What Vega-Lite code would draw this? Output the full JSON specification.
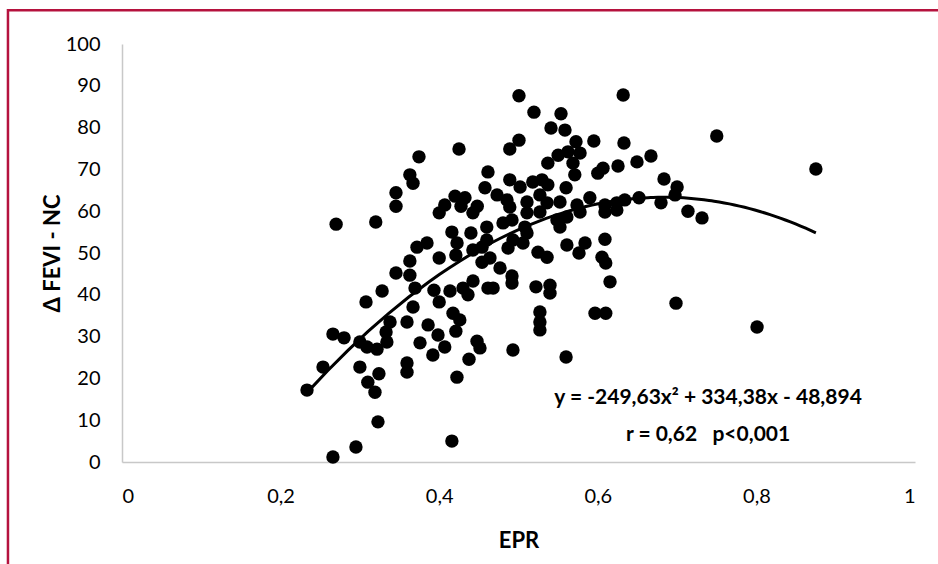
{
  "$schema": "https://vega.github.io/schema/vega-lite/v6.json",
  "autosize": "none",
  "width": 793,
  "height": 418,
  "padding": {"left": 122, "top": 44, "right": 23, "bottom": 102},
  "background": "white",
  "config": {"view": {"stroke": null}, "font": "Lato"},
  "layer": [
    {
      "data": {"values": [{}]},
      "mark": {"type": "rect", "fill": null, "stroke": "#B5123E", "strokeWidth": 2.5},
      "encoding": {
        "x": {"datum": -0.1438, "type": "quantitative", "scale": {"domain": [0, 1], "nice": false}},
        "x2": {"datum": 1.1},
        "y": {"datum": 108.1, "type": "quantitative", "scale": {"domain": [0, 100], "nice": false}},
        "y2": {"datum": -40}
      }
    },
    {
      "data": {"name": "pts"},
      "mark": {"type": "circle", "size": 180, "color": "#000000", "opacity": 1},
      "encoding": {
        "x": {
          "field": "EPR", "type": "quantitative",
          "scale": {"domain": [0, 1], "nice": false, "zero": false},
          "axis": {
            "values": [0, 0.2, 0.4, 0.6, 0.8, 1],
            "labelExpr": "datum.value == 0 ? '0' : datum.value == 1 ? '1' : replace(format(datum.value, '.1f'), '.', ',')",
            "grid": false, "ticks": false,
            "domainColor": "#C8C8C8", "domainWidth": 1.5,
            "labelFontSize": 20, "labelColor": "#000000", "labelPadding": 24, "labelFont": "Lato",
            "title": "EPR", "titleFontSize": 22, "titleFontWeight": "bold", "titleColor": "#000000", "titleFont": "Lato",
            "titleY": 78, "titleBaseline": "middle"
          }
        },
        "y": {
          "field": "dFEVI", "type": "quantitative",
          "scale": {"domain": [0, 100], "nice": false},
          "axis": {
            "values": [0, 10, 20, 30, 40, 50, 60, 70, 80, 90, 100],
            "grid": false, "ticks": false,
            "domainColor": "#C8C8C8", "domainWidth": 1.5,
            "labelFontSize": 20, "labelColor": "#000000", "labelPadding": 22, "labelFont": "Lato",
            "title": "Δ FEVI - NC", "titleFontSize": 22, "titleFontWeight": "bold", "titleColor": "#000000", "titleFont": "Lato",
            "titleX": -70, "titleY": 209, "titleAngle": -90, "titleAlign": "center", "titleBaseline": "middle"
          }
        }
      }
    },
    {
      "data": {"name": "pts"},
      "transform": [{"regression": "dFEVI", "on": "EPR", "method": "poly", "order": 2}],
      "mark": {"type": "line", "color": "#000000", "strokeWidth": 3},
      "encoding": {
        "x": {"field": "EPR", "type": "quantitative"},
        "y": {"field": "dFEVI", "type": "quantitative"}
      }
    },
    {
      "data": {"values": [{}]},
      "mark": {"type": "text", "text": "y = -249,63x² + 334,38x - 48,894", "font": "Lato", "fontSize": 21, "fontWeight": "bold", "color": "#000000", "align": "center", "baseline": "middle"},
      "encoding": {
        "x": {"datum": 0.739, "type": "quantitative"},
        "y": {"datum": 15.3, "type": "quantitative"}
      }
    },
    {
      "data": {"values": [{}]},
      "mark": {"type": "text", "text": "r = 0,62\u00a0\u00a0\u00a0p<0,001", "font": "Lato", "fontSize": 21, "fontWeight": "bold", "color": "#000000", "align": "center", "baseline": "middle"},
      "encoding": {
        "x": {"datum": 0.739, "type": "quantitative"},
        "y": {"datum": 6.5, "type": "quantitative"}
      }
    }
  ],
  "datasets": {
    "pts": [
      {"EPR": 0.425, "dFEVI": 74.9}, {"EPR": 0.3745, "dFEVI": 73.0}, {"EPR": 0.363, "dFEVI": 68.7}, {"EPR": 0.367, "dFEVI": 66.7},
      {"EPR": 0.3455, "dFEVI": 64.4}, {"EPR": 0.3455, "dFEVI": 61.2}, {"EPR": 0.270, "dFEVI": 56.9}, {"EPR": 0.320, "dFEVI": 57.4},
      {"EPR": 0.400, "dFEVI": 59.6}, {"EPR": 0.407, "dFEVI": 61.5}, {"EPR": 0.420, "dFEVI": 63.6}, {"EPR": 0.4325, "dFEVI": 63.2},
      {"EPR": 0.4275, "dFEVI": 61.2}, {"EPR": 0.448, "dFEVI": 61.2}, {"EPR": 0.4425, "dFEVI": 59.6}, {"EPR": 0.416, "dFEVI": 55.0},
      {"EPR": 0.440, "dFEVI": 54.8}, {"EPR": 0.4225, "dFEVI": 52.4}, {"EPR": 0.3846, "dFEVI": 52.4}, {"EPR": 0.372, "dFEVI": 51.4},
      {"EPR": 0.363, "dFEVI": 48.1}, {"EPR": 0.400, "dFEVI": 48.8}, {"EPR": 0.421, "dFEVI": 49.5}, {"EPR": 0.4425, "dFEVI": 50.7},
      {"EPR": 0.5006, "dFEVI": 87.6}, {"EPR": 0.632, "dFEVI": 87.8}, {"EPR": 0.5195, "dFEVI": 83.7}, {"EPR": 0.5536, "dFEVI": 83.3},
      {"EPR": 0.541, "dFEVI": 79.9}, {"EPR": 0.5586, "dFEVI": 79.4}, {"EPR": 0.5006, "dFEVI": 77.0}, {"EPR": 0.489, "dFEVI": 74.9},
      {"EPR": 0.5725, "dFEVI": 76.6}, {"EPR": 0.595, "dFEVI": 76.8}, {"EPR": 0.633, "dFEVI": 76.3}, {"EPR": 0.550, "dFEVI": 73.4},
      {"EPR": 0.5624, "dFEVI": 74.2}, {"EPR": 0.5776, "dFEVI": 73.9}, {"EPR": 0.537, "dFEVI": 71.5}, {"EPR": 0.5687, "dFEVI": 71.5},
      {"EPR": 0.571, "dFEVI": 68.7}, {"EPR": 0.600, "dFEVI": 69.1}, {"EPR": 0.6066, "dFEVI": 70.3}, {"EPR": 0.6255, "dFEVI": 70.8},
      {"EPR": 0.6494, "dFEVI": 71.8}, {"EPR": 0.667, "dFEVI": 73.2}, {"EPR": 0.6835, "dFEVI": 67.7}, {"EPR": 0.700, "dFEVI": 65.8},
      {"EPR": 0.6974, "dFEVI": 63.9}, {"EPR": 0.7137, "dFEVI": 60.0}, {"EPR": 0.7314, "dFEVI": 58.4}, {"EPR": 0.652, "dFEVI": 63.2},
      {"EPR": 0.6797, "dFEVI": 62.0}, {"EPR": 0.4615, "dFEVI": 69.4}, {"EPR": 0.489, "dFEVI": 67.5}, {"EPR": 0.4577, "dFEVI": 65.6},
      {"EPR": 0.502, "dFEVI": 65.8}, {"EPR": 0.518, "dFEVI": 67.0}, {"EPR": 0.5296, "dFEVI": 67.5}, {"EPR": 0.537, "dFEVI": 66.3},
      {"EPR": 0.560, "dFEVI": 65.6}, {"EPR": 0.473, "dFEVI": 63.9}, {"EPR": 0.4855, "dFEVI": 62.7}, {"EPR": 0.489, "dFEVI": 61.0},
      {"EPR": 0.5107, "dFEVI": 62.2}, {"EPR": 0.527, "dFEVI": 63.9}, {"EPR": 0.536, "dFEVI": 62.0}, {"EPR": 0.5523, "dFEVI": 62.2},
      {"EPR": 0.5738, "dFEVI": 61.5}, {"EPR": 0.590, "dFEVI": 63.2}, {"EPR": 0.609, "dFEVI": 61.5}, {"EPR": 0.624, "dFEVI": 62.0},
      {"EPR": 0.634, "dFEVI": 62.7}, {"EPR": 0.5776, "dFEVI": 59.8}, {"EPR": 0.609, "dFEVI": 59.8}, {"EPR": 0.624, "dFEVI": 60.3},
      {"EPR": 0.527, "dFEVI": 59.8}, {"EPR": 0.5107, "dFEVI": 59.6}, {"EPR": 0.4918, "dFEVI": 57.9}, {"EPR": 0.4805, "dFEVI": 57.2},
      {"EPR": 0.460, "dFEVI": 56.2}, {"EPR": 0.508, "dFEVI": 56.2}, {"EPR": 0.5485, "dFEVI": 57.9}, {"EPR": 0.561, "dFEVI": 58.6},
      {"EPR": 0.5523, "dFEVI": 56.2}, {"EPR": 0.5107, "dFEVI": 54.8}, {"EPR": 0.493, "dFEVI": 53.1}, {"EPR": 0.460, "dFEVI": 53.1},
      {"EPR": 0.454, "dFEVI": 51.4}, {"EPR": 0.4868, "dFEVI": 51.2}, {"EPR": 0.5057, "dFEVI": 52.4}, {"EPR": 0.561, "dFEVI": 51.9},
      {"EPR": 0.5839, "dFEVI": 52.4}, {"EPR": 0.5763, "dFEVI": 50.0}, {"EPR": 0.609, "dFEVI": 53.3}, {"EPR": 0.6053, "dFEVI": 49.0},
      {"EPR": 0.5246, "dFEVI": 50.2}, {"EPR": 0.536, "dFEVI": 49.0}, {"EPR": 0.464, "dFEVI": 48.8}, {"EPR": 0.454, "dFEVI": 47.8},
      {"EPR": 0.610, "dFEVI": 47.6},
      {"EPR": 0.2333, "dFEVI": 17.2}, {"EPR": 0.2535, "dFEVI": 22.7}, {"EPR": 0.266, "dFEVI": 30.6}, {"EPR": 0.280, "dFEVI": 29.7},
      {"EPR": 0.300, "dFEVI": 28.7}, {"EPR": 0.309, "dFEVI": 27.5}, {"EPR": 0.3216, "dFEVI": 27.0}, {"EPR": 0.300, "dFEVI": 22.7},
      {"EPR": 0.310, "dFEVI": 19.1}, {"EPR": 0.324, "dFEVI": 21.1}, {"EPR": 0.319, "dFEVI": 16.7}, {"EPR": 0.3228, "dFEVI": 9.6},
      {"EPR": 0.295, "dFEVI": 3.6}, {"EPR": 0.266, "dFEVI": 1.2}, {"EPR": 0.3077, "dFEVI": 38.3}, {"EPR": 0.328, "dFEVI": 40.9},
      {"EPR": 0.3455, "dFEVI": 45.2}, {"EPR": 0.363, "dFEVI": 44.7}, {"EPR": 0.3695, "dFEVI": 41.6}, {"EPR": 0.367, "dFEVI": 37.1},
      {"EPR": 0.3594, "dFEVI": 33.5}, {"EPR": 0.338, "dFEVI": 33.5}, {"EPR": 0.333, "dFEVI": 31.1}, {"EPR": 0.334, "dFEVI": 28.7},
      {"EPR": 0.3594, "dFEVI": 23.7}, {"EPR": 0.3594, "dFEVI": 21.5}, {"EPR": 0.3758, "dFEVI": 28.5}, {"EPR": 0.386, "dFEVI": 32.8},
      {"EPR": 0.3985, "dFEVI": 30.4}, {"EPR": 0.407, "dFEVI": 27.5}, {"EPR": 0.392, "dFEVI": 25.6}, {"EPR": 0.3934, "dFEVI": 41.1},
      {"EPR": 0.400, "dFEVI": 38.3}, {"EPR": 0.4136, "dFEVI": 40.9}, {"EPR": 0.430, "dFEVI": 41.6}, {"EPR": 0.4363, "dFEVI": 40.0},
      {"EPR": 0.4426, "dFEVI": 43.3}, {"EPR": 0.4615, "dFEVI": 41.6}, {"EPR": 0.4174, "dFEVI": 35.6}, {"EPR": 0.426, "dFEVI": 34.0},
      {"EPR": 0.421, "dFEVI": 31.3}, {"EPR": 0.4477, "dFEVI": 28.9}, {"EPR": 0.4514, "dFEVI": 27.3}, {"EPR": 0.4376, "dFEVI": 24.6},
      {"EPR": 0.4224, "dFEVI": 20.3}, {"EPR": 0.416, "dFEVI": 5.0},
      {"EPR": 0.468, "dFEVI": 41.6}, {"EPR": 0.4918, "dFEVI": 42.8}, {"EPR": 0.522, "dFEVI": 41.9}, {"EPR": 0.5397, "dFEVI": 42.3},
      {"EPR": 0.5397, "dFEVI": 40.4}, {"EPR": 0.6154, "dFEVI": 43.1}, {"EPR": 0.527, "dFEVI": 35.9}, {"EPR": 0.527, "dFEVI": 33.5},
      {"EPR": 0.527, "dFEVI": 31.6}, {"EPR": 0.5965, "dFEVI": 35.6}, {"EPR": 0.610, "dFEVI": 35.6}, {"EPR": 0.6986, "dFEVI": 38.0},
      {"EPR": 0.493, "dFEVI": 26.8}, {"EPR": 0.560, "dFEVI": 25.1}, {"EPR": 0.4767, "dFEVI": 46.4}, {"EPR": 0.4918, "dFEVI": 44.5},
      {"EPR": 0.750, "dFEVI": 78.0}, {"EPR": 0.875, "dFEVI": 70.1}, {"EPR": 0.8008, "dFEVI": 32.3}
    ]
  }
}
